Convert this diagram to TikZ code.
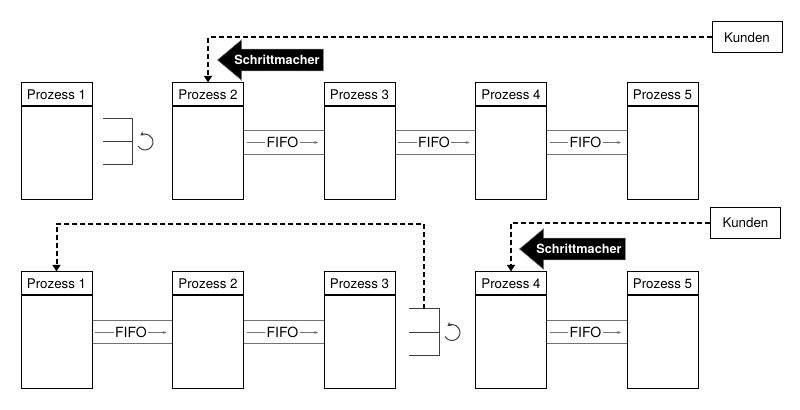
\documentclass[tikz,border=0pt]{standalone}
\usepackage{fontspec}
\setmainfont{TeX Gyre Heros}
\usetikzlibrary{arrows.meta,shapes.arrows}

\tikzset{
  kopf/.style={draw, line width=0.75pt, minimum width=53.25pt, minimum height=17.25pt, inner sep=0pt, font=\fontsize{10}{12}\selectfont},
  rumpf/.style={draw, line width=0.75pt, minimum width=53.25pt, minimum height=69.75pt, inner sep=0pt, anchor=north},
  kunde/.style={draw, line width=0.75pt, minimum width=52.5pt, minimum height=23.25pt, inner sep=0pt, font=\fontsize{10}{12}\selectfont},
  kanal/.style={black!55, line width=0.7pt},
  fifo/.style={fill=white, text=black, inner sep=1pt, font=\fontsize{10.5}{12}\selectfont},
  regal/.style={black!75, line width=0.75pt},
  signal/.style={line width=1.5pt, dash pattern=on 3.5pt off 2.5pt, -{Triangle[length=5pt,width=6pt]}},
  macher/.style={single arrow, shape border rotate=180, fill=black, draw=black!50, line width=0.4pt, text=white,
    font=\bfseries\fontsize{9.5}{11}\selectfont, single arrow tip angle=80, single arrow head extend=7pt,
    minimum height=79.5pt, inner xsep=1pt, inner ysep=4.5pt, text height=7pt, text depth=0pt}
}

\begin{document}
\begin{tikzpicture}[x=0.75pt, y=0.75pt]
\useasboundingbox (0,0) rectangle (800,410);

% obere Reihe
\node[kopf] (a1) at (56.5,315.5) {Prozess 1};
\node[rumpf] (a1r) at (a1.south) {};
\node[kopf] (a2) at (208,315.5) {Prozess 2};
\node[rumpf] (a2r) at (a2.south) {};
\node[kopf] (a3) at (359.5,315.5) {Prozess 3};
\node[rumpf] (a3r) at (a3.south) {};
\node[kopf] (a4) at (511,315.5) {Prozess 4};
\node[rumpf] (a4r) at (a4.south) {};
\node[kopf] (a5) at (662.5,315.5) {Prozess 5};
\node[rumpf] (a5r) at (a5.south) {};
\node[kunde] (k1) at (747,372.5) {Kunden};

% untere Reihe
\node[kopf] (b1) at (56.5,126.5) {Prozess 1};
\node[rumpf] (b1r) at (b1.south) {};
\node[kopf] (b2) at (208,126.5) {Prozess 2};
\node[rumpf] (b2r) at (b2.south) {};
\node[kopf] (b3) at (359.5,126.5) {Prozess 3};
\node[rumpf] (b3r) at (b3.south) {};
\node[kopf] (b4) at (511,126.5) {Prozess 4};
\node[rumpf] (b4r) at (b4.south) {};
\node[kopf] (b5) at (662.5,126.5) {Prozess 5};
\node[rumpf] (b5r) at (b5.south) {};
\node[kunde] (k2) at (745.5,187) {Kunden};

% FIFO-Kanaele
\draw[kanal] ([yshift=-18pt]a2r.north east) -- ([yshift=-18pt]a3r.north west) ([yshift=-36pt]a2r.north east) -- ([yshift=-36pt]a3r.north west);
\draw[kanal, -{Stealth[length=3pt]}] ([xshift=2pt,yshift=-27pt]a2r.north east) -- node[fifo] (f23) {FIFO} ([xshift=-4pt,yshift=-27pt]a3r.north west);
\draw[kanal] ([yshift=-18pt]a3r.north east) -- ([yshift=-18pt]a4r.north west) ([yshift=-36pt]a3r.north east) -- ([yshift=-36pt]a4r.north west);
\draw[kanal, -{Stealth[length=3pt]}] ([xshift=2pt,yshift=-27pt]a3r.north east) -- node[fifo] (f34) {FIFO} ([xshift=-4pt,yshift=-27pt]a4r.north west);
\draw[kanal] ([yshift=-18pt]a4r.north east) -- ([yshift=-18pt]a5r.north west) ([yshift=-36pt]a4r.north east) -- ([yshift=-36pt]a5r.north west);
\draw[kanal, -{Stealth[length=3pt]}] ([xshift=2pt,yshift=-27pt]a4r.north east) -- node[fifo] (f45) {FIFO} ([xshift=-4pt,yshift=-27pt]a5r.north west);

\draw[kanal] ([yshift=-18.75pt]b1r.north east) -- ([yshift=-18.75pt]b2r.north west) ([yshift=-36pt]b1r.north east) -- ([yshift=-36pt]b2r.north west);
\draw[kanal, -{Stealth[length=3pt]}] ([xshift=2pt,yshift=-27.75pt]b1r.north east) -- node[fifo] (g12) {FIFO} ([xshift=-4pt,yshift=-27.75pt]b2r.north west);
\draw[kanal] ([yshift=-18.75pt]b2r.north east) -- ([yshift=-18.75pt]b3r.north west) ([yshift=-36pt]b2r.north east) -- ([yshift=-36pt]b3r.north west);
\draw[kanal, -{Stealth[length=3pt]}] ([xshift=2pt,yshift=-27.75pt]b2r.north east) -- node[fifo] (g23) {FIFO} ([xshift=-4pt,yshift=-27.75pt]b3r.north west);
\draw[kanal] ([yshift=-18.75pt]b4r.north east) -- ([yshift=-18.75pt]b5r.north west) ([yshift=-36pt]b4r.north east) -- ([yshift=-36pt]b5r.north west);
\draw[kanal, -{Stealth[length=3pt]}] ([xshift=2pt,yshift=-27.75pt]b4r.north east) -- node[fifo] (g45) {FIFO} ([xshift=-4pt,yshift=-27.75pt]b5r.north west);

% Supermaerkte
\coordinate (s1) at (132,268);
\draw[regal] (s1) ++(-29,23) -- ++(29,0) -- ++(0,-46) -- ++(-29,0);
\draw[regal] (s1) -- ++(-29,0);
\draw[regal, -{Stealth[length=3pt,width=3.5pt]}] (s1) ++(13,0) ++(-150:8) arc[start angle=-150, end angle=125, radius=8];
\coordinate (s2) at (439,77.5);
\coordinate (s2o) at (424,101);
\draw[regal] (s2) ++(-30,23.5) -- ++(30,0) -- ++(0,-47) -- ++(-30,0);
\draw[regal] (s2) -- ++(-30,0);
\draw[regal, -{Stealth[length=3pt,width=3.5pt]}] (s2) ++(13,0) ++(-150:8) arc[start angle=-150, end angle=125, radius=8];

% Signale
\draw[signal] (k1) -| (a2);
\draw[signal] (k2) -| (b4);
\draw[signal] (s2o) -- ++(0,85) -| (b1);

% Schrittmacher
\node[macher, anchor=tip] (m1) at (217,350) {Schrittmacher};
\node[macher, anchor=tip] (m2) at (519,161) {Schrittmacher};
\end{tikzpicture}
\end{document}
